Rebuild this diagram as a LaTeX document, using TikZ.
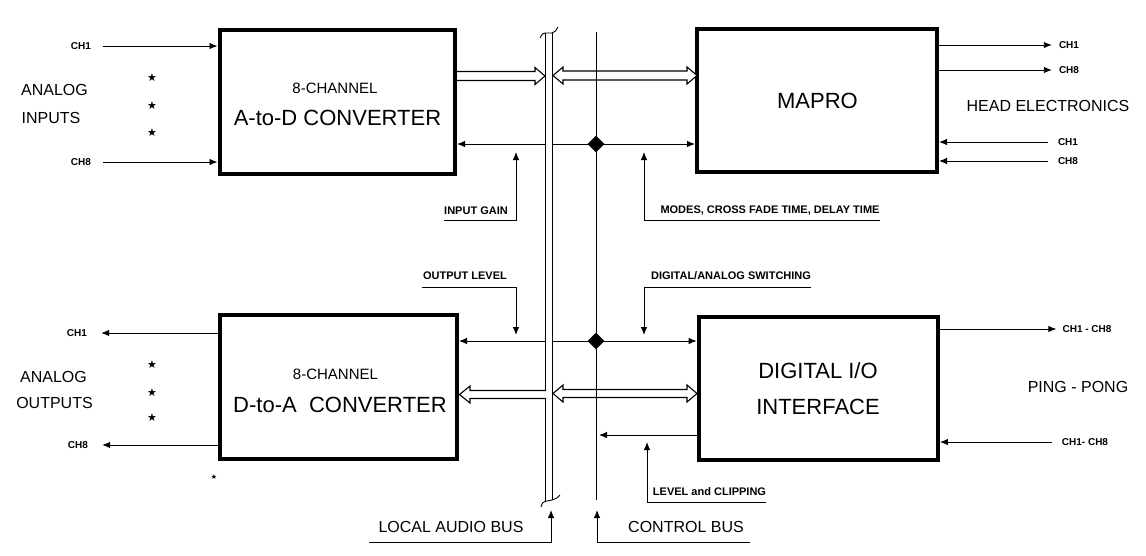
\documentclass[tikz,border=0pt]{standalone}
\usepackage{fontspec}
\setmainfont{Liberation Sans}
\newfontfamily\symfont{DejaVu Sans}
\usetikzlibrary{arrows.meta,shapes.geometric}
\begin{document}
\begin{tikzpicture}[x=1pt,y=-1pt,
  box/.style={draw, line width=4pt, inner sep=0},
  sig/.style={line width=0.9pt, -{Latex[length=8pt,width=6.5pt]}},
  thinline/.style={line width=0.9pt},
  hollow/.style={line width=1.1pt, fill=white, line join=miter},
  bigtxt/.style={inner sep=0, font=\fontsize{22}{26}\selectfont},
  midtxt/.style={inner sep=0, font=\fontsize{15}{18}\selectfont},
  sidetxt/.style={inner sep=0, font=\fontsize{16}{19}\selectfont},
  lbl/.style={inner sep=0, font=\bfseries\fontsize{11}{13}\selectfont},
  chl/.style={inner sep=0, font=\bfseries\fontsize{10}{12}\selectfont},
  startxt/.style={inner sep=0, font=\symfont\fontsize{11}{12}\selectfont},
  junction/.style={diamond, fill=black, inner sep=0, minimum width=17pt, minimum height=17pt}
]
\useasboundingbox (0,0) rectangle (1146,555);
\fill[white] (0,0) rectangle (1146,555);

% blocks
\node[box, minimum width=235.5pt, minimum height=144pt] (adc) at (337.25,101.6) {};
\node[box, minimum width=240pt, minimum height=143.3pt] (mapro) at (817,100.3) {};
\node[box, minimum width=237.5pt, minimum height=144pt] (dac) at (338.25,386.7) {};
\node[box, minimum width=239.3pt, minimum height=142.7pt] (dio) at (818.3,388.3) {};

\node[midtxt] (adc1) at (335,88) {8-CHANNEL};
\node[bigtxt] (adc2) at (337.5,118) {A-to-D CONVERTER};
\node[bigtxt] (maprot) at (817.5,101) {MAPRO};
\node[midtxt] (dac1) at (335.5,374) {8-CHANNEL};
\node[bigtxt] (dac2) at (340,405) {D-to-A\ \ CONVERTER};
\node[bigtxt] (dio1) at (818,371) {DIGITAL I/O};
\node[bigtxt] (dio2) at (818,407) {INTERFACE};

% side texts
\node[sidetxt] (ai1) at (54.5,90) {ANALOG};
\node[sidetxt] (ai2) at (51,118) {INPUTS};
\node[sidetxt] (ao1) at (53.5,377) {ANALOG};
\node[sidetxt] (ao2) at (54.5,403) {OUTPUTS};
\node[sidetxt] (head) at (1048,106) {HEAD ELECTRONICS};
\node[sidetxt] (ping) at (1078,387) {PING - PONG};
\node[sidetxt] (lab) at (451,527) {LOCAL AUDIO BUS};
\node[sidetxt] (cb) at (686,527) {CONTROL BUS};

% channel labels
\node[chl] (i1) at (81,46) {CH1};
\node[chl] (i8) at (81,162) {CH8};
\node[chl] (o1) at (77,333) {CH1};
\node[chl] (o8) at (78,445) {CH8};
\node[chl] (h1o) at (1069,45) {CH1};
\node[chl] (h8o) at (1069,70) {CH8};
\node[chl] (h1i) at (1068,142) {CH1};
\node[chl] (h8i) at (1068,161) {CH8};
\node[chl] (p1o) at (1087,329) {CH1 - CH8};
\node[chl] (p1i) at (1085,442) {CH1- CH8};

% stars
\node[startxt] (s1) at (152,78) {★};
\node[startxt] (s2) at (152,106) {★};
\node[startxt] (s3) at (152,133) {★};
\node[startxt] (s4) at (152,365) {★};
\node[startxt] (s5) at (152,393) {★};
\node[startxt] (s6) at (152,418) {★};
\node[inner sep=0, font=\symfont\fontsize{7}{8}\selectfont] (s7) at (214,477) {★};

% channel connectors
\draw[sig] ([xshift=12pt]i1.east) -- (i1 -| adc.west);
\draw[sig] ([xshift=12pt]i8.east) -- (i8 -| adc.west);
\draw[sig] (o1 -| dac.west) -- ([xshift=14pt]o1.east);
\draw[sig] (o8 -| dac.west) -- ([xshift=14pt]o8.east);
\draw[sig] (h1o -| mapro.east) -- ([xshift=-7pt]h1o.west);
\draw[sig] (h8o -| mapro.east) -- ([xshift=-7pt]h8o.west);
\draw[sig] ([xshift=-10pt]h1i.west) -- (h1i -| mapro.east);
\draw[sig] ([xshift=-10pt]h8i.west) -- (h8i -| mapro.east);
\draw[sig] (p1o -| dio.east) -- ([xshift=-6pt]p1o.west);
\draw[sig] ([xshift=-10pt]p1i.west) -- (p1i -| dio.east);

% local audio bus
\draw[thinline] (545,33) -- (545,501.5);
\draw[thinline] (552,33) -- (552,500);
\draw[thinline] (540,38) .. controls (542,34) and (543,33) .. (545,33) -- (552,33) .. controls (555,33) and (556,30) .. (558,27);
\draw[thinline] (541,507) .. controls (542,503) and (543,501.5) .. (545,501.5) -- (552,500) .. controls (555,499.5) and (557,498) .. (560,495);

% hollow (bus) arrows
\draw[hollow] (457,71.5) -- (535,71.5) -- (535,67.5) -- (545,76) -- (535,84.5) -- (535,80.5) -- (457,80.5);
\draw[hollow] (553,75.5) -- (563,67) -- (563,71) -- (687,71) -- (687,67) -- (697,75.5) -- (687,84) -- (687,80) -- (563,80) -- (563,84) -- cycle;
\draw[hollow] (546,390.5) -- (470,390.5) -- (470,386) -- (459.5,394.5) -- (470,403) -- (470,398.5) -- (546,398.5);
\draw[hollow] (553,393.5) -- (563,385) -- (563,389.5) -- (687,389.5) -- (687,385) -- (697,393.5) -- (687,402) -- (687,397.5) -- (563,397.5) -- (563,402) -- cycle;

% control bus
\draw[thinline] (596,32) -- (596,500);
\node[junction] (j1) at (596,144) {};
\node[junction] (j2) at (596,341) {};

\coordinate (bl1) at (545,144);
\coordinate (br1) at (552,144);
\draw[sig] (bl1) -- (bl1 -| adc.east);
\draw[sig] (br1) -- (br1 -| mapro.west);
\coordinate (bl2) at (545,341);
\coordinate (br2) at (552,341);
\draw[sig] (bl2) -- (bl2 -| dac.east);
\draw[sig] (br2) -- (br2 -| dio.west);
\coordinate (cb3) at (599,435);
\draw[sig] (cb3 -| dio.west) -- (cb3);

% control labels
\node[lbl] (ig) at (476,211) {INPUT GAIN};
\coordinate (igc) at (516,220);
\coordinate (igt) at (516,152);
\draw[sig] (ig.west |- igc) -- (igc) -- (igt);

\node[lbl] (md) at (770,211) {MODES, CROSS FADE TIME, DELAY TIME};
\coordinate (mdc) at (644,220);
\coordinate (mdt) at (644,152);
\draw[sig] (md.east |- mdc) -- (mdc) -- (mdt);

\node[lbl] (ol) at (465,276) {OUTPUT LEVEL};
\coordinate (olc) at (516,287);
\coordinate (olt) at (516,335);
\draw[sig] ([xshift=-1pt]ol.west |- olc) -- (olc) -- (olt);

\node[lbl] (da) at (731,276) {DIGITAL/ANALOG SWITCHING};
\coordinate (dsc) at (644,287);
\coordinate (dst) at (644,335);
\draw[sig] (da.east |- dsc) -- (dsc) -- (dst);

\node[lbl] (lc) at (709.5,492) {LEVEL and CLIPPING};
\coordinate (lcc) at (647,502);
\coordinate (lct) at (647,442);
\draw[sig] (lc.east |- lcc) -- (lcc) -- (lct);

\coordinate (labc) at (551,542);
\coordinate (labt) at (551,510);
\draw[sig] ([xshift=-9pt]lab.west |- labc) -- (labc) -- (labt);

\coordinate (cbc) at (597,542);
\coordinate (cbt) at (597,510);
\draw[sig] ([xshift=6pt]cb.east |- cbc) -- (cbc) -- (cbt);
\end{tikzpicture}
\end{document}
